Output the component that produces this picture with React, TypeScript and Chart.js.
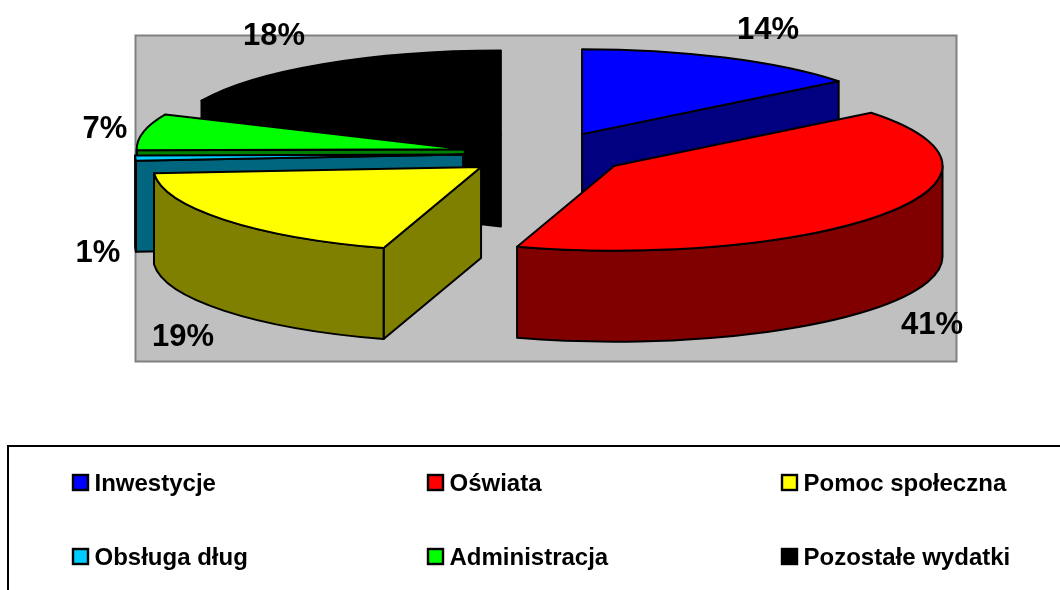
import React, { useEffect, useRef } from "react";
import { Chart, registerables } from "chart.js";

Chart.register(...registerables);

const categories = ["Inwestycje", "Oświata", "Pomoc społeczna", "Obsługa dług", "Administracja", "Pozostałe wydatki"];
const values = [14.3, 40.5, 19.0, 1.0, 6.9, 18.3];
const topColors = ["#0000FF", "#FF0000", "#FFFF00", "#00CCFF", "#00FF00", "#000000"];
const sideColors = ["#000080", "#800000", "#808000", "#006680", "#008000", "#000000"];

// Projection of the flat Chart.js pie into the tilted, exploded 3D look
const CX = 546, CY = 153.5, RX = 328, RY = 85, EXPLODE = 83, DEPTH = 91;
const PAINT_ORDER = [5, 4, 3, 0, 2, 1];
const PLOT = { l: 135.5, t: 35.5, r: 956.5, b: 361.5 };
const LABEL_CENTERS = [[768, 30], [932, 325], [183, 337], [98, 253], [105, 129], [274, 36]];
const LEGEND_COLS = [72, 427, 781];
const LEGEND_ROWS = [474, 548];
const FONT = '"Liberation Sans", Arial, sans-serif';
const LINE = 2;

const pie3d = {
  id: "pie3d",
  beforeDraw(chart: any) {
    const ctx = chart.ctx;
    ctx.save();
    ctx.fillStyle = "#C0C0C0";
    ctx.strokeStyle = "#808080";
    ctx.lineWidth = 2;
    ctx.fillRect(PLOT.l, PLOT.t, PLOT.r - PLOT.l, PLOT.b - PLOT.t);
    ctx.strokeRect(PLOT.l, PLOT.t, PLOT.r - PLOT.l, PLOT.b - PLOT.t);
    ctx.restore();
  },
  beforeDatasetsDraw(chart: any) {
    const ctx = chart.ctx;
    const arcs = chart.getDatasetMeta(0).data;
    ctx.save();
    ctx.lineWidth = LINE;
    ctx.lineJoin = "round";
    ctx.strokeStyle = "#000";
    for (const i of PAINT_ORDER) {
      const arc = arcs[i];
      const { x, y, startAngle: a0, endAngle: a1, outerRadius: r } = arc;
      const mid = (a0 + a1) / 2;
      const sx = RX / r, sy = RY / r;
      const ex = (EXPLODE / sx) * Math.cos(mid);
      const ey = (EXPLODE / sx) * Math.sin(mid);
      const d = DEPTH / sy;
      const project = () => {
        ctx.translate(CX, CY);
        ctx.scale(sx, sy);
        ctx.translate(-x + ex, -y + ey);
      };
      const shape = (build: () => void, fill: string) => {
        ctx.save();
        project();
        ctx.beginPath();
        build();
        ctx.closePath();
        ctx.restore();
        ctx.fillStyle = fill;
        ctx.fill();
        ctx.stroke();
      };
      const radial = (a: number) => () => {
        ctx.moveTo(x, y);
        ctx.lineTo(x + r * Math.cos(a), y + r * Math.sin(a));
        ctx.lineTo(x + r * Math.cos(a), y + r * Math.sin(a) + d);
        ctx.lineTo(x, y + d);
      };
      // only walls that face the viewer
      if (Math.cos(a0) < 0) shape(radial(a0), sideColors[i]);
      if (Math.cos(a1) > 1e-6) shape(radial(a1), sideColors[i]);
      const v0 = Math.max(a0, 0), v1 = Math.min(a1, Math.PI);
      if (v1 > v0) {
        shape(() => {
          ctx.arc(x, y, r, v0, v1);
          ctx.arc(x, y + d, r, v1, v0, true);
        }, sideColors[i]);
      }
      // top face: drawn by the library's own arc element
      ctx.save();
      project();
      arc.draw(ctx);
      ctx.beginPath();
      ctx.moveTo(x, y);
      ctx.arc(x, y, r, a0, a1);
      ctx.closePath();
      ctx.restore();
      ctx.stroke();
    }
    ctx.restore();
    return false;
  },
  afterDraw(chart: any) {
    const ctx = chart.ctx;
    ctx.save();
    ctx.fillStyle = "#000";
    ctx.textAlign = "center";
    ctx.textBaseline = "middle";
    ctx.font = `bold 31px ${FONT}`;
    values.forEach((v, i) => {
      ctx.fillText(`${Math.round(v)}%`, LABEL_CENTERS[i][0], LABEL_CENTERS[i][1]);
    });
    // legend frame (runs off the page at right and bottom, as in the reference)
    ctx.strokeStyle = "#000";
    ctx.lineWidth = 2;
    ctx.strokeRect(8, 446, 1100, 200);
    ctx.textAlign = "left";
    ctx.font = `bold 24px ${FONT}`;
    categories.forEach((c, i) => {
      const col = LEGEND_COLS[i % 3], row = LEGEND_ROWS[Math.floor(i / 3)];
      ctx.fillStyle = topColors[i];
      ctx.lineWidth = 2.4;
      ctx.fillRect(col + 1, row + 1, 15, 15);
      ctx.strokeRect(col + 1, row + 1, 15, 15);
      ctx.fillStyle = "#000";
      ctx.fillText(c, col + 22.5, row + 10);
    });
    ctx.restore();
  },
};

export default function App() {
  const ref = useRef<HTMLCanvasElement>(null);
  useEffect(() => {
    const chart = new Chart(ref.current!, {
      type: "pie",
      data: {
        labels: categories,
        datasets: [{ data: values, backgroundColor: topColors, borderWidth: 0 }],
      },
      options: {
        animation: false,
        responsive: false,
        events: [],
        plugins: { legend: { display: false }, tooltip: { enabled: false }, title: { display: false } },
      },
      plugins: [pie3d],
    } as any);
    return () => chart.destroy();
  }, []);
  return (
    <canvas
      ref={ref}
      width={1060}
      height={590}
      style={{ position: "absolute", left: 0, top: 0, display: "block" }}
    />
  );
}
